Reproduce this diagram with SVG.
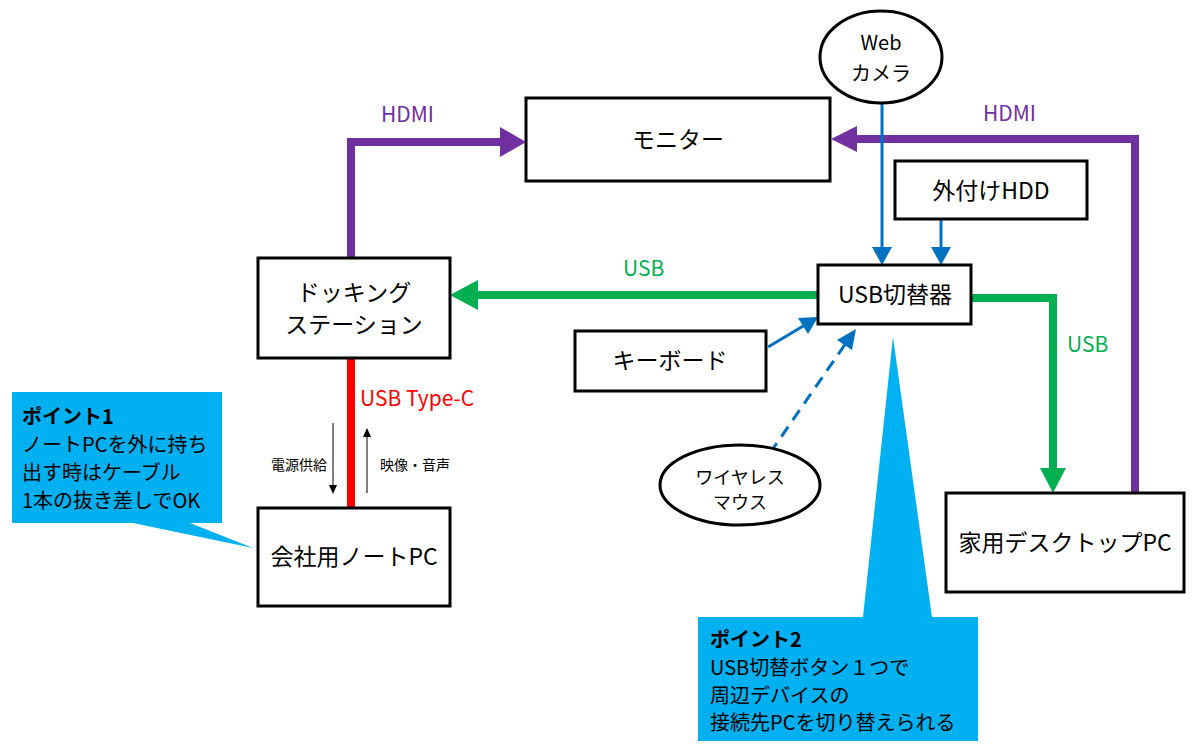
<svg xmlns="http://www.w3.org/2000/svg" width="1200" height="756" viewBox="0 0 1200 756">
<defs>
<style>
text{font-family:"Noto Sans CJK JP","Noto Sans",sans-serif;fill:#000}
.box{fill:#fff;stroke:#000;stroke-width:3}
.t{font-size:23px;text-anchor:middle}
.lbl{font-size:21px}
.small{font-size:14px}
.call{fill:#00B0F0}
.ct{font-size:20px}
.hdmi{fill:none;stroke:#7030A0;stroke-width:8}
.usb{fill:none;stroke:#00B050;stroke-width:8}
.blue{fill:none;stroke:#0070C0;stroke-width:3}
</style>
</defs>
<rect width="1200" height="756" fill="#fff"/>
<g id="connectors">
<polyline class="hdmi" points="351,258 351,142 502,142"/>
<polygon points="526,142 500,127 500,157" fill="#7030A0"/>
<polyline class="hdmi" points="1135,493 1135,139 855,139"/>
<polygon points="831,139 857,126 857,152" fill="#7030A0"/>
<line class="usb" x1="818" y1="295" x2="476" y2="295"/>
<polygon points="450,295 478,280 478,310" fill="#00B050"/>
<polyline class="usb" points="971,298 1053,298 1053,470"/>
<polygon points="1053,493 1040,468 1066,468" fill="#00B050"/>
<line class="blue" x1="882" y1="103" x2="882" y2="250"/>
<polygon points="882,265 872,247 892,247" fill="#0070C0"/>
<line class="blue" x1="941" y1="219" x2="941" y2="250"/>
<polygon points="941,265 931,247 951,247" fill="#0070C0"/>
<line class="blue" x1="768" y1="347" x2="805" y2="325"/>
<polygon points="818,317 798,318 808,334" fill="#0070C0"/>
<line class="blue" x1="770" y1="453" x2="846" y2="343" stroke-dasharray="12,8"/>
<polygon points="856,329 837,340 852,350" fill="#0070C0"/>
<line x1="351" y1="358" x2="351" y2="508" stroke="#FF0000" stroke-width="8"/>
<line x1="333" y1="423" x2="333" y2="486" stroke="#000" stroke-width="1"/>
<polygon points="333,494 329,485 337,485" fill="#000"/>
<line x1="367" y1="436" x2="367" y2="493" stroke="#000" stroke-width="1"/>
<polygon points="367,428 363,437 371,437" fill="#000"/>
</g>
<g id="labels">
<text x="381" y="122" class="lbl" style="fill:#7030A0">HDMI</text>
<text x="983" y="121" class="lbl" style="fill:#7030A0">HDMI</text>
<text x="623" y="276" class="lbl" style="fill:#00B050">USB</text>
<text x="1067" y="352" class="lbl" style="fill:#00B050">USB</text>
<text x="360" y="406" style="fill:#FF0000;font-size:21px">USB Type-C</text>
<text x="327" y="470" class="small" text-anchor="end">電源供給</text>
<text x="380" y="470" class="small">映像・音声</text>
</g>
<g id="monitor"><rect class="box" x="526" y="98" width="304" height="83"/><text class="t" x="678" y="148">モニター</text></g>
<g id="webcam"><ellipse cx="881" cy="57" rx="61" ry="46" fill="#fff" stroke="#000" stroke-width="3"/><text class="t" x="881" y="50" style="font-size:20px">Web</text><text class="t" x="881" y="81" style="font-size:20px">カメラ</text></g>
<g id="hdd"><rect class="box" x="895" y="161" width="192" height="58"/><text class="t" x="991" y="199">外付けHDD</text></g>
<g id="switch"><rect class="box" x="818" y="265" width="153" height="59"/><text class="t" x="895" y="303">USB切替器</text></g>
<g id="dock"><rect class="box" x="258" y="258" width="192" height="100"/><text class="t" x="354" y="301">ドッキング</text><text class="t" x="354" y="333">ステーション</text></g>
<g id="keyboard"><rect class="box" x="575" y="331" width="191" height="60"/><text class="t" x="670" y="369">キーボード</text></g>
<g id="mouse"><ellipse cx="740" cy="485" rx="80" ry="40" fill="#fff" stroke="#000" stroke-width="3"/><text class="t" x="740" y="484" style="font-size:18px">ワイヤレス</text><text class="t" x="740" y="509" style="font-size:18px">マウス</text></g>
<g id="laptop"><rect class="box" x="258" y="508" width="192" height="98"/><text class="t" x="354" y="565">会社用ノートPC</text></g>
<g id="desktop"><rect class="box" x="946" y="493" width="238" height="99"/><text class="t" x="1065" y="551">家用デスクトップPC</text></g>
<g id="point1">
<polygon class="call" points="12,392 222,392 222,523 190,523 253,548 133,523 12,523"/>
<text x="22" y="424" class="ct" style="font-weight:bold">ポイント1</text>
<text x="22" y="452" class="ct">ノートPCを外に持ち</text>
<text x="22" y="480" class="ct">出す時はケーブル</text>
<text x="22" y="508" class="ct">1本の抜き差しでOK</text>
</g>
<g id="point2">
<polygon class="call" points="698,617 863,617 893,337 932,617 978,617 978,741 698,741"/>
<text x="710" y="647" class="ct" style="font-weight:bold">ポイント2</text>
<text x="710" y="675" class="ct">USB切替ボタン１つで</text>
<text x="710" y="703" class="ct">周辺デバイスの</text>
<text x="710" y="730" class="ct">接続先PCを切り替えられる</text>
</g>
</svg>
